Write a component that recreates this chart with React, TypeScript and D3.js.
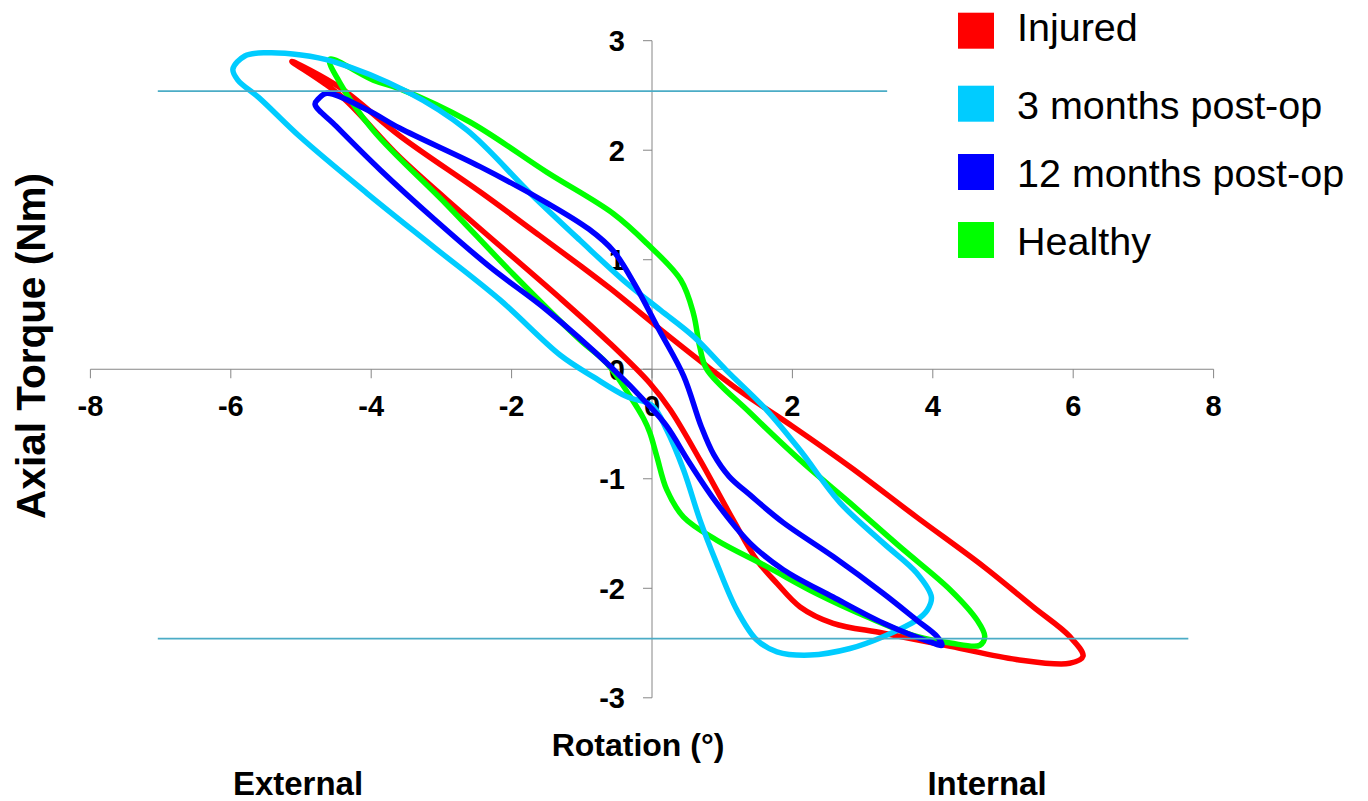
import React from 'react';
import * as d3 from 'd3';

const WIDTH = 1368;
const HEIGHT = 801;
const FONT = "'Liberation Sans', Arial, sans-serif";

// hysteresis loops, [rotation (deg), torque (Nm)], read clockwise from the upper-left tip
const injured: [number, number][] = [
  [-5.13, 2.81], [-4.44, 2.57], [-3.59, 2.13], [-2.45, 1.62], [-1.6, 1.22], [-1.03, 0.95],
  [-0.6, 0.74], [0.07, 0.39], [0.73, 0.055], [1.3, -0.22], [2.0, -0.52], [2.82, -0.89],
  [3.77, -1.35], [4.72, -1.8], [5.43, -2.17], [5.95, -2.44], [6.14, -2.62], [5.95, -2.685],
  [5.19, -2.65], [4.25, -2.53], [3.3, -2.41], [2.58, -2.32], [2.11, -2.17], [1.78, -1.955],
  [1.49, -1.74], [1.16, -1.38], [0.685, -0.83], [0.26, -0.37], [-0.03, -0.128],
  [-0.6, 0.237], [-1.31, 0.65], [-2.64, 1.39], [-3.6, 1.94], [-4.44, 2.5],
];

const threeMonths: [number, number][] = [
  [-5.97, 2.74], [-5.8, 2.86], [-5.49, 2.89], [-5.0, 2.87], [-4.54, 2.81], [-3.49, 2.535],
  [-2.64, 2.185], [-1.74, 1.61], [-1.03, 1.18], [-0.36, 0.785], [0.12, 0.54], [0.59, 0.3],
  [1.06, -0.01], [1.63, -0.37], [2.11, -0.74], [2.68, -1.22], [3.3, -1.59], [3.77, -1.86],
  [3.98, -2.08], [3.92, -2.2], [3.77, -2.29], [3.3, -2.44], [2.82, -2.55], [2.25, -2.61],
  [1.78, -2.58], [1.49, -2.47], [1.21, -2.2], [0.92, -1.77], [0.685, -1.38], [0.45, -0.92],
  [0.21, -0.555], [0, -0.33], [-0.36, -0.25], [-0.835, -0.07], [-1.31, 0.13],
  [-2.165, 0.633], [-3.115, 1.12], [-4.06, 1.607], [-5.01, 2.12], [-5.6, 2.48], [-5.9, 2.64],
];

const twelveMonths: [number, number][] = [
  [-4.75, 2.47], [-4.63, 2.52], [-4.06, 2.37], [-3.59, 2.2], [-2.45, 1.85], [-1.5, 1.52],
  [-0.9, 1.28], [-0.55, 1.08], [-0.25, 0.78], [0.1, 0.36], [0.45, -0.06], [0.7, -0.52],
  [0.88, -0.78], [1.1, -0.98], [1.4, -1.15], [1.87, -1.4], [2.58, -1.71], [3.3, -2.05],
  [3.77, -2.29], [4.06, -2.44], [4.13, -2.52], [3.96, -2.49], [3.3, -2.32], [2.58, -2.08],
  [1.87, -1.83], [1.4, -1.59], [0.92, -1.22], [0.54, -0.86], [0.21, -0.52], [-0.03, -0.34],
  [-0.6, 0.03], [-1.5, 0.54], [-2.3, 0.93], [-3.1, 1.37], [-3.87, 1.82], [-4.5, 2.22],
  [-4.8, 2.42],
];

const healthy: [number, number][] = [
  [-4.59, 2.83], [-3.97, 2.64], [-3.59, 2.56], [-2.6, 2.26], [-1.5, 1.8], [-0.55, 1.42],
  [-0.075, 1.15], [0.41, 0.815], [0.59, 0.51], [0.68, 0.206], [0.78, 0.0], [1.4, -0.4],
  [2.11, -0.83], [2.82, -1.22], [3.53, -1.62], [4.25, -2.015], [4.63, -2.29], [4.74, -2.44],
  [4.67, -2.52], [4.25, -2.5], [3.77, -2.44], [3.06, -2.26], [2.35, -2.05], [1.63, -1.8],
  [0.92, -1.56], [0.45, -1.35], [0.21, -1.1], [0.07, -0.8], [-0.03, -0.58], [-0.12, -0.45],
  [-0.31, -0.25], [-0.645, 0.055], [-1.03, 0.27], [-1.98, 0.87], [-2.92, 1.5],
  [-3.97, 2.18], [-4.45, 2.62],
];

const seriesNames = ['Injured', '3 months post-op', '12 months post-op', 'Healthy'];
const seriesColors = ['#ff0000', '#00ccff', '#0000ff', '#00ff00'];
const seriesLoops = [injured, threeMonths, twelveMonths, healthy];
// drawing order, bottom to top
const drawOrder = [0, 3, 1, 2];

const xTicks = [-8, -6, -4, -2, 0, 2, 4, 6, 8];
const yTicks = [-3, -2, -1, 0, 1, 2, 3];

// torque limits drawn as reference lines: [torque, rotation from, rotation to]
const limitLines: [number, number, number][] = [
  [2.54, -7.04, 3.35],
  [-2.46, -7.04, 7.64],
];

export default function App() {
  const x = d3.scaleLinear().domain([-8, 8]).range([90.4, 1213.6]);
  const y = d3.scaleLinear().domain([-3, 3]).range([697.8, 40.7]);

  const loop = d3
    .line<[number, number]>()
    .x((d) => x(d[0]))
    .y((d) => y(d[1]))
    .curve(d3.curveCatmullRomClosed.alpha(0.5));

  const axisColor = '#868686';
  const legendBaselines = [41, 119, 187, 255];
  const legendTops = [12.7, 85.7, 154, 222];

  return (
    <div style={{ position: 'absolute', left: 0, top: 0 }}>
      <svg width={WIDTH} height={HEIGHT} style={{ display: 'block', background: '#fff' }} fontFamily={FONT}>
        {/* axes */}
        <line x1={x(-8)} x2={x(8)} y1={y(0)} y2={y(0)} stroke={axisColor} strokeWidth={1} />
        <line x1={x(0)} x2={x(0)} y1={y(3)} y2={y(-3)} stroke={axisColor} strokeWidth={1} />
        {xTicks.map((t) => (
          <g key={'x' + t}>
            <line x1={x(t)} x2={x(t)} y1={y(0)} y2={y(0) + 9} stroke={axisColor} />
            <text x={x(t)} y={y(0) + 47} textAnchor="middle" fontSize={29} fontWeight="bold">
              {t}
            </text>
          </g>
        ))}
        {yTicks.map((t) => (
          <g key={'y' + t}>
            <line x1={x(0) - 9} x2={x(0)} y1={y(t)} y2={y(t)} stroke={axisColor} />
            <text x={x(0) - 27} y={y(t) + 10.5} textAnchor="end" fontSize={29} fontWeight="bold">
              {t}
            </text>
          </g>
        ))}

        {/* loops */}
        {drawOrder.map((i) => (
          <path
            key={seriesNames[i]}
            d={loop(seriesLoops[i]) || ''}
            fill="none"
            stroke={seriesColors[i]}
            strokeWidth={5.5}
            strokeLinejoin="round"
          />
        ))}

        {/* reference torque lines */}
        {limitLines.map(([t, a, b], i) => (
          <line key={i} x1={x(a)} x2={x(b)} y1={y(t)} y2={y(t)} stroke="#4bacc6" strokeWidth={1.8} />
        ))}

        {/* axis titles */}
        <text x={638} y={756} textAnchor="middle" fontSize={32} fontWeight="bold">
          Rotation (°)
        </text>
        <text x={298} y={795} textAnchor="middle" fontSize={33} fontWeight="bold">
          External
        </text>
        <text x={987} y={795} textAnchor="middle" fontSize={33} fontWeight="bold">
          Internal
        </text>
        <text
          transform={`translate(45,346) rotate(-90)`}
          textAnchor="middle"
          fontSize={40.5}
          fontWeight="bold"
        >
          Axial Torque (Nm)
        </text>

        {/* legend */}
        {seriesNames.map((name, i) => (
          <g key={name}>
            <rect x={958} y={legendTops[i]} width={36} height={36} fill={seriesColors[i]} />
            <text x={1017} y={legendBaselines[i]} fontSize={39.5}>
              {name}
            </text>
          </g>
        ))}
      </svg>
    </div>
  );
}
